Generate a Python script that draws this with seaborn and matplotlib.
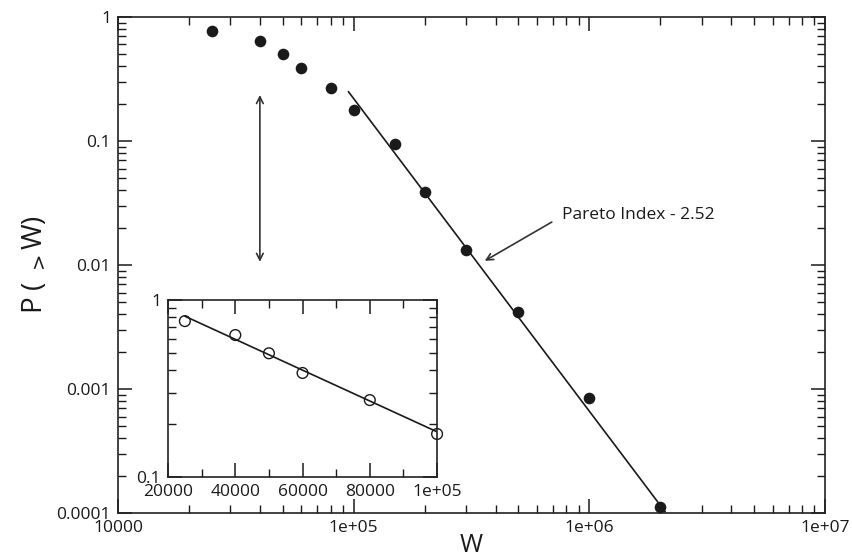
import numpy as np
import matplotlib
matplotlib.use("Agg")
import matplotlib.pyplot as plt
import seaborn as sns
from matplotlib.ticker import NullFormatter, LogLocator, AutoMinorLocator

# main panel: cumulative distribution P(>W)
w_main = [25000, 40000, 50000, 60000, 80000, 1e5, 1.5e5, 2e5, 3e5, 5e5, 1e6, 2e6]
p_main = [0.77, 0.64, 0.50, 0.39, 0.27, 0.178, 0.095, 0.039, 0.0132, 0.0042, 0.00085, 0.000112]

# power-law fit (Pareto index 2.52)
fit_w = [9.5e4, 2.1e6]
fit_p = [0.25, 1.02e-4]

# inset: low-W part on linear x, log y
w_inset = [25000, 40000, 50000, 60000, 80000, 1e5]
p_inset = [0.76, 0.634, 0.50, 0.387, 0.272, 0.175]
inset_fit_w = [25000, 1e5]
inset_fit_p = [0.81, 0.18]

x_ticks = [1e4, 1e5, 1e6, 1e7]
x_tick_labels = ["10000", "1e+05", "1e+06", "1e+07"]
y_ticks = [1e-4, 1e-3, 1e-2, 1e-1, 1]
y_tick_labels = ["0.0001", "0.001", "0.01", "0.1", "1"]
inset_x_ticks = [20000, 40000, 60000, 80000, 100000]
inset_x_tick_labels = ["20000", "40000", "60000", "80000", "1e+05"]
inset_y_ticks = [0.1, 1]
inset_y_tick_labels = ["0.1", "1"]

sns.set_theme(style="ticks")
plt.rcParams["font.family"] = ["Open Sans", "DejaVu Sans"]
plt.rcParams["axes.edgecolor"] = "#222222"
plt.rcParams["axes.linewidth"] = 1.2

fs = 12.5
ink = "#1a1a1a"


def style_ticks(ax):
    ax.tick_params(which="both", direction="in", top=True, right=True,
                   colors=ink, labelsize=fs, pad=5)
    ax.tick_params(which="major", length=10, width=1.1)
    ax.tick_params(which="minor", length=5.5, width=1.0)


fig = plt.figure(figsize=(8.53, 5.57), dpi=100)
ax = fig.add_axes([0.1383, 0.0790, 0.8289, 0.8905])

sns.scatterplot(x=w_main, y=p_main, ax=ax, color=ink, s=70,
                edgecolor=ink, linewidth=0, zorder=3)
sns.lineplot(x=fit_w, y=fit_p, ax=ax, color=ink, lw=1.2, zorder=2)

ax.set_xscale("log")
ax.set_yscale("log")
ax.set_xlim(1e4, 1e7)
ax.set_ylim(1e-4, 1)
ax.set_xticks(x_ticks, labels=x_tick_labels)
ax.set_yticks(y_ticks, labels=y_tick_labels)
ax.xaxis.set_minor_locator(LogLocator(base=10, subs=np.arange(2, 10)))
ax.yaxis.set_minor_locator(LogLocator(base=10, subs=np.arange(2, 10)))
ax.xaxis.set_minor_formatter(NullFormatter())
ax.yaxis.set_minor_formatter(NullFormatter())
style_ticks(ax)

ax.set_xlabel("W", fontsize=18, color=ink, labelpad=-2)
ax.set_ylabel(r"P ( $_{>}$W)", fontsize=20, color=ink)
ax.yaxis.set_label_coords(-0.097, 0.5)

# double arrow marking the range shown in the inset
ax.annotate("", xy=(4e4, 0.235), xytext=(4e4, 0.0106),
            arrowprops=dict(arrowstyle="<->", color="#333333", lw=1.2,
                            shrinkA=0, shrinkB=0, mutation_scale=12))

# Pareto index label
ax.text(7.66e5, 0.0253, "Pareto Index - 2.52", fontsize=fs, color=ink,
        ha="left", va="center")
ax.annotate("", xy=(3.6e5, 0.0108), xytext=(6.93e5, 0.0222),
            arrowprops=dict(arrowstyle="->", color="#333333", lw=1.2,
                            shrinkA=0, shrinkB=0, mutation_scale=12))

# inset
axin = fig.add_axes([0.1970, 0.1436, 0.3154, 0.3178])
sns.lineplot(x=inset_fit_w, y=inset_fit_p, ax=axin, color=ink, lw=1.2, zorder=2)
sns.scatterplot(x=w_inset, y=p_inset, ax=axin, s=60, facecolor="none",
                edgecolor=ink, linewidth=1.0, zorder=3, clip_on=False)
axin.set_yscale("log")
axin.set_xlim(20000, 100000)
axin.set_ylim(0.1, 1)
axin.set_xticks(inset_x_ticks, labels=inset_x_tick_labels)
axin.set_yticks(inset_y_ticks, labels=inset_y_tick_labels)
axin.xaxis.set_minor_locator(AutoMinorLocator(2))
axin.yaxis.set_minor_locator(LogLocator(base=10, subs=np.arange(2, 10)))
axin.yaxis.set_minor_formatter(NullFormatter())
style_ticks(axin)
axin.set_xlabel("")
axin.set_ylabel("")

fig.savefig("out.png", dpi=100)
